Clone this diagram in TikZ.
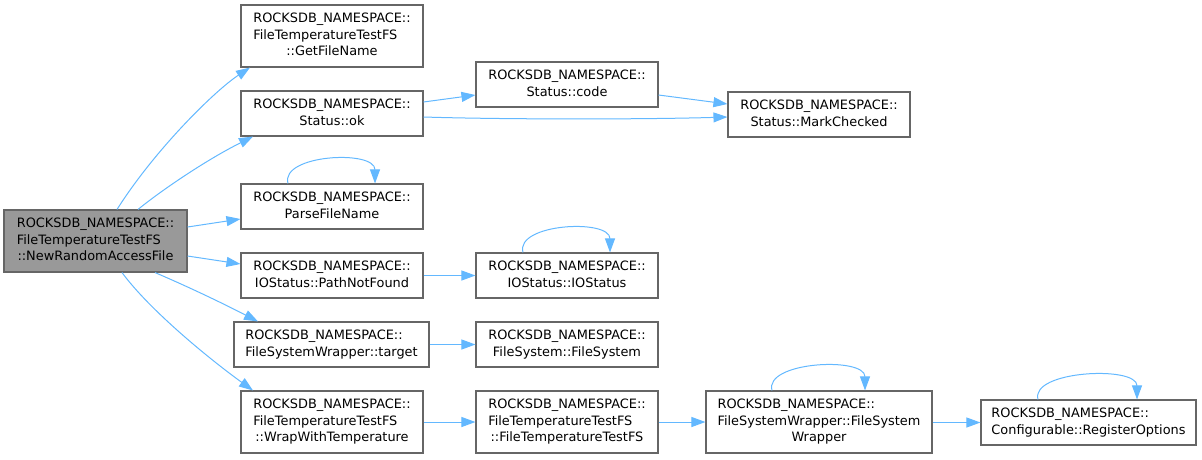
\documentclass[tikz,border=0pt]{standalone}
\usepackage{fontspec}
\setmainfont{DejaVu Sans}
\usetikzlibrary{arrows.meta}
\definecolor{edgeblue}{HTML}{63B8FF}
\definecolor{boxline}{HTML}{666666}
\definecolor{mainfill}{HTML}{999999}
\newcommand\twoline[2]{\begin{tabular}{@{}l@{}}#1\\\multicolumn{1}{@{}c@{}}{#2}\end{tabular}}
\newcommand\threeline[3]{\begin{tabular}{@{}l@{}}#1\\#2\\\multicolumn{1}{@{}c@{}}{#3}\end{tabular}}
\newcommand\NS{ROCKSDB\_NAMESPACE::}
\tikzset{
  fn/.style={draw=boxline, line width=1.1pt, fill=white, inner sep=0pt, minimum width=#1, minimum height=45pt,
    font=\fontsize{12.9}{16.6}\selectfont},
  fn/.default=182pt,
  tall/.style={minimum height=62pt},
  call/.style={draw=edgeblue, line width=1pt, -{Triangle[length=14pt,width=10pt]}},
}
\begin{document}
\begin{tikzpicture}[x=1pt,y=-1pt]
\useasboundingbox (0,0) rectangle (1202,459);
% nodes
\node[fn=183pt, tall, fill=mainfill] (main) at (95.5,241) {\threeline{\NS}{FileTemperatureTestFS}{::NewRandomAccessFile}};
\node[fn, tall] (gfn) at (332,36) {\threeline{\NS}{FileTemperatureTestFS}{::GetFileName}};
\node[fn] (ok) at (332,113.5) {\twoline{\NS}{Status::ok}};
\node[fn] (parse) at (332,206.5) {\twoline{\NS}{ParseFileName}};
\node[fn] (pnf) at (332,275.5) {\twoline{\NS}{IOStatus::PathNotFound}};
\node[fn=195pt] (target) at (331.5,344.5) {\twoline{\NS}{FileSystemWrapper::target}};
\node[fn, tall] (wrap) at (332,422) {\threeline{\NS}{FileTemperatureTestFS}{::WrapWithTemperature}};
\node[fn] (code) at (567,84.5) {\twoline{\NS}{Status::code}};
\node[fn] (mark) at (819,114.5) {\twoline{\NS}{Status::MarkChecked}};
\node[fn] (ios) at (567,275.5) {\twoline{\NS}{IOStatus::IOStatus}};
\node[fn] (fsfs) at (567,344.5) {\twoline{\NS}{FileSystem::FileSystem}};
\node[fn, tall] (fttfs) at (567,422) {\threeline{\NS}{FileTemperatureTestFS}{::FileTemperatureTestFS}};
\node[fn=226pt, tall] (fsw) at (819,422) {\threeline{\NS}{FileSystemWrapper::FileSystem}{Wrapper}};
\node[fn=215pt] (reg) at (1088.5,422.5) {\twoline{\NS}{Configurable::RegisterOptions}};
% edges from main
\draw[call] ([xshift=21.5pt]main.north) .. controls +(38,-60) and +(-35,23) .. ([xshift=-82pt]gfn.south);
\draw[call] ([xshift=42.5pt]main.north) .. controls +(22,-18) and +(-48,24) .. ([xshift=-79pt]ok.south);
\draw[call] ([yshift=14pt]main.east) -- ([yshift=-12.5pt]parse.west);
\draw[call] ([yshift=-15pt]main.east) -- ([yshift=11.5pt]pnf.west);
\draw[call] ([xshift=59.5pt]main.south) .. controls +(35,15) and +(-35,-18) .. ([xshift=-73.5pt]target.north);
\draw[call] ([xshift=26.5pt]main.south) .. controls +(28,38) and +(-43,-31) .. ([xshift=-79pt]wrap.north);
% other edges
\draw[call] ([yshift=11.5pt]ok.east) -- ([yshift=-10.5pt]code.west);
\draw[call] ([yshift=-3.5pt]ok.east) .. controls +(80,2.5) and +(-85,2.5) .. ([yshift=-2.5pt]mark.west);
\draw[call] ([yshift=-10.5pt]code.east) -- ([yshift=10.5pt]mark.west);
\draw[call] (pnf.east) -- (ios.west);
\draw[call] (target.east) -- (fsfs.west);
\draw[call] (wrap.east) -- (fttfs.west);
\draw[call] (fttfs.east) -- (fsw.west);
\draw[call] ([yshift=-0.5pt]fsw.east) -- (reg.west);
% self loops
\draw[call] ([xshift=-44pt]parse.north) .. controls +(-8,-29) and +(0,-34) .. ([xshift=43pt]parse.north);
\draw[call] ([xshift=-44pt]ios.north) .. controls +(-8,-29) and +(0,-34) .. ([xshift=43pt]ios.north);
\draw[call] ([xshift=-47pt]fsw.north) .. controls +(-8,-29) and +(0,-34) .. ([xshift=46pt]fsw.north);
\draw[call] ([xshift=-50.5pt]reg.north) .. controls +(-8,-29) and +(0,-34) .. ([xshift=48.5pt]reg.north);
\end{tikzpicture}
\end{document}
